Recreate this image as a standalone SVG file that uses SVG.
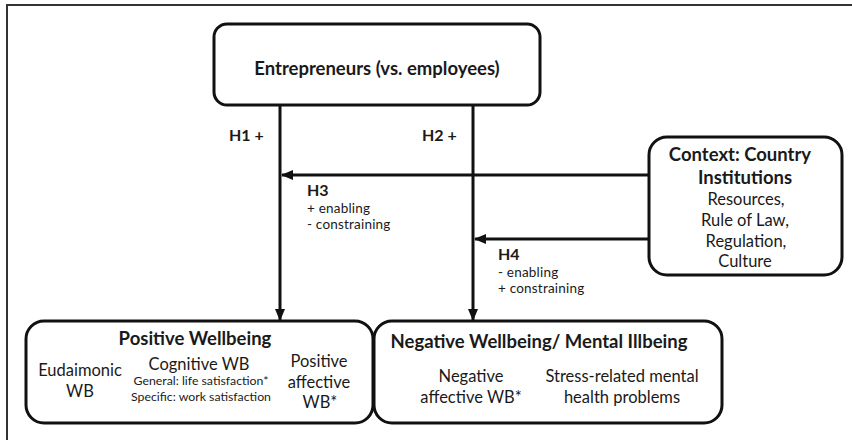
<svg xmlns="http://www.w3.org/2000/svg" width="852" height="440" viewBox="0 0 852 440">
<style>
.box{fill:#fff;stroke:#111;stroke-width:3}
.ln{stroke:#111;stroke-width:3;fill:none}
text{font-family:Lato,"Open Sans","Liberation Sans",sans-serif;fill:#1a1a1a}
.b{font-weight:bold}
.m{text-anchor:middle}
.t{font-size:18.5px;font-weight:bold}
.n{font-size:16.5px}
.s{font-size:12.3px}
.h{font-size:16px;font-weight:bold}
.d{font-size:13.5px;letter-spacing:0.2px}
</style>
<defs>
<marker id="ah" markerUnits="userSpaceOnUse" markerWidth="12" markerHeight="12" viewBox="0 0 12 12" refX="11" refY="6" orient="auto">
<path d="M0,1 L12,6 L0,11 Z" fill="#111"/>
</marker>
</defs>
<rect width="852" height="440" fill="#fff"/>
<path d="M7,440 V5 H852" fill="none" stroke="#333" stroke-width="2"/>

<g id="connectors">
<line class="ln" x1="280" y1="105" x2="280" y2="320" marker-end="url(#ah)"/>
<line class="ln" x1="473" y1="105" x2="473" y2="320" marker-end="url(#ah)"/>
<line class="ln" x1="649" y1="175" x2="282" y2="175" marker-end="url(#ah)"/>
<line class="ln" x1="649" y1="239" x2="475" y2="239" marker-end="url(#ah)"/>
<text class="h" x="229" y="141">H1 +</text>
<text class="h" x="422" y="141">H2 +</text>
<text class="h" x="307" y="196">H3</text>
<text class="d" x="307" y="213">+ enabling</text>
<text class="d" x="307" y="229">- constraining</text>
<text class="h" x="498" y="260">H4</text>
<text class="d" x="498" y="277">- enabling</text>
<text class="d" x="498" y="293">+ constraining</text>
</g>

<g id="entrepreneurs">
<rect class="box" x="214" y="24" width="326" height="81" rx="13"/>
<text class="t m" x="377" y="75">Entrepreneurs (vs. employees)</text>
</g>

<g id="context">
<rect class="box" x="649" y="137" width="193" height="138" rx="18"/>
<text class="t m" x="740" y="161">Context: Country</text>
<text class="t m" x="745" y="184">Institutions</text>
<text class="n m" x="746" y="205">Resources,</text>
<text class="n m" x="745" y="226">Rule of Law,</text>
<text class="n m" x="746" y="247">Regulation,</text>
<text class="n m" x="745" y="267">Culture</text>
</g>

<g id="positive">
<rect class="box" x="26" y="321" width="347" height="102" rx="18"/>
<text class="t m" x="195" y="345">Positive Wellbeing</text>
<text class="n m" x="80" y="376">Eudaimonic</text>
<text class="n m" x="80" y="397">WB</text>
<text class="n m" x="199" y="370">Cognitive WB</text>
<text class="s m" x="201" y="385">General: life satisfaction*</text>
<text class="s m" x="201" y="401">Specific: work satisfaction</text>
<text class="n m" x="319" y="367">Positive</text>
<text class="n m" x="319" y="388">affective</text>
<text class="n m" x="320" y="408">WB*</text>
</g>

<g id="negative">
<rect class="box" x="374" y="321" width="348" height="102" rx="18"/>
<text class="t m" x="539" y="348">Negative Wellbeing/ Mental Illbeing</text>
<text class="n m" x="471" y="382">Negative</text>
<text class="n m" x="471" y="403">affective WB*</text>
<text class="n m" x="622" y="382">Stress-related mental</text>
<text class="n m" x="622" y="403">health problems</text>
</g>
</svg>
